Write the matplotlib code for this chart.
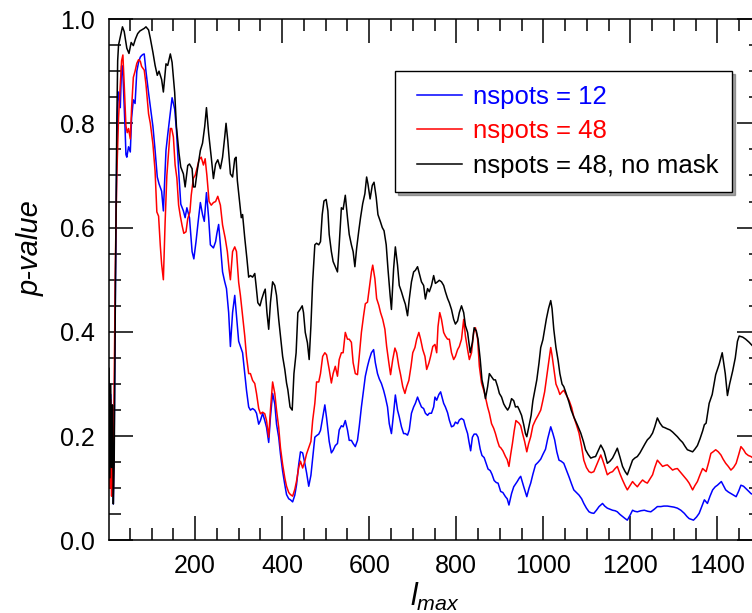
import matplotlib
matplotlib.use("Agg")
import matplotlib.pyplot as plt
from matplotlib.ticker import MultipleLocator, FormatStrFormatter

plt.rcParams['font.family'] = ['Liberation Sans', 'DejaVu Sans']
plt.rcParams['mathtext.fontset'] = 'custom'
plt.rcParams['mathtext.rm'] = 'Liberation Sans'
plt.rcParams['mathtext.it'] = 'Liberation Sans:italic'

# ---- data: p-value versus l_max ----
l_blue = [2, 4, 6, 8, 10, 12, 14, 17, 20, 22, 24, 26, 28, 31, 33, 35, 39, 41, 43, 47, 51, 54, 58, 62, 66, 70, 74, 77, 80, 83, 87, 93, 97, 103, 108, 113, 117, 123, 127, 133, 137, 143, 147, 153, 157, 163, 167, 173, 177, 181, 187, 193, 197, 202, 207, 212, 217, 221, 226, 231, 235, 242, 247, 250, 254, 258, 263, 268, 272, 277, 281, 286, 291, 295, 300, 304, 309, 314, 318, 323, 327, 332, 337, 341, 346, 350, 355, 360, 364, 369, 373, 378, 383, 387, 392, 396, 401, 406, 410, 415, 419, 424, 429, 433, 438, 442, 447, 452, 456, 461, 466, 470, 475, 479, 484, 488, 493, 498, 502, 508, 513, 517, 522, 527, 531, 536, 540, 545, 550, 554, 559, 563, 568, 573, 577, 582, 587, 591, 596, 600, 605, 610, 614, 619, 623, 628, 633, 637, 642, 646, 651, 656, 660, 665, 669, 674, 679, 683, 688, 692, 697, 702, 706, 711, 715, 720, 725, 729, 734, 738, 743, 748, 751, 755, 760, 764, 771, 775, 780, 784, 789, 794, 798, 803, 807, 812, 817, 821, 826, 829, 833, 837, 841, 846, 850, 855, 859, 864, 869, 873, 878, 882, 887, 892, 896, 902, 907, 913, 917, 921, 927, 932, 940, 945, 948, 955, 962, 967, 971, 976, 982, 988, 994, 999, 1005, 1010, 1017, 1022, 1026, 1031, 1036, 1041, 1047, 1053, 1059, 1065, 1070, 1076, 1082, 1088, 1093, 1099, 1105, 1110, 1116, 1122, 1128, 1136, 1141, 1147, 1153, 1159, 1165, 1170, 1176, 1182, 1188, 1193, 1199, 1205, 1210, 1216, 1224, 1232, 1240, 1247, 1255, 1262, 1270, 1277, 1285, 1293, 1300, 1308, 1316, 1324, 1330, 1335, 1345, 1352, 1358, 1364, 1370, 1377, 1383, 1389, 1395, 1400, 1409, 1414, 1419, 1425, 1431, 1437, 1443, 1449, 1454, 1460, 1465, 1471, 1477, 1482]
p_blue = [0.30, 0.12, 0.28, 0.10, 0.22, 0.07, 0.20, 0.50, 0.75, 0.83, 0.86, 0.85, 0.83, 0.91, 0.91, 0.875, 0.79, 0.74, 0.735, 0.755, 0.745, 0.81, 0.845, 0.838, 0.90, 0.917, 0.927, 0.93, 0.932, 0.933, 0.90, 0.858, 0.832, 0.794, 0.748, 0.697, 0.684, 0.67, 0.632, 0.748, 0.778, 0.82, 0.849, 0.827, 0.787, 0.697, 0.645, 0.632, 0.619, 0.638, 0.619, 0.554, 0.54, 0.573, 0.612, 0.648, 0.625, 0.612, 0.667, 0.619, 0.567, 0.561, 0.573, 0.589, 0.606, 0.567, 0.515, 0.496, 0.483, 0.437, 0.372, 0.437, 0.47, 0.43, 0.382, 0.372, 0.36, 0.32, 0.288, 0.256, 0.25, 0.253, 0.25, 0.244, 0.223, 0.23, 0.244, 0.23, 0.217, 0.188, 0.236, 0.282, 0.262, 0.223, 0.198, 0.166, 0.133, 0.107, 0.088, 0.08, 0.078, 0.074, 0.087, 0.107, 0.146, 0.17, 0.168, 0.148, 0.13, 0.104, 0.125, 0.158, 0.198, 0.201, 0.204, 0.211, 0.236, 0.26, 0.235, 0.19, 0.168, 0.173, 0.182, 0.186, 0.212, 0.22, 0.218, 0.23, 0.212, 0.192, 0.192, 0.186, 0.18, 0.192, 0.218, 0.256, 0.288, 0.315, 0.334, 0.347, 0.36, 0.366, 0.341, 0.32, 0.31, 0.301, 0.288, 0.275, 0.256, 0.224, 0.205, 0.244, 0.279, 0.25, 0.237, 0.218, 0.205, 0.205, 0.202, 0.212, 0.244, 0.256, 0.263, 0.275, 0.266, 0.256, 0.253, 0.244, 0.24, 0.244, 0.244, 0.256, 0.275, 0.269, 0.28, 0.285, 0.263, 0.256, 0.245, 0.231, 0.218, 0.22, 0.227, 0.224, 0.231, 0.234, 0.231, 0.218, 0.205, 0.19, 0.172, 0.198, 0.204, 0.204, 0.198, 0.175, 0.163, 0.159, 0.147, 0.137, 0.134, 0.127, 0.115, 0.111, 0.11, 0.094, 0.092, 0.084, 0.08, 0.068, 0.09, 0.103, 0.113, 0.12, 0.123, 0.103, 0.084, 0.1, 0.11, 0.127, 0.145, 0.15, 0.156, 0.165, 0.175, 0.195, 0.218, 0.205, 0.193, 0.17, 0.154, 0.152, 0.148, 0.135, 0.122, 0.108, 0.097, 0.092, 0.087, 0.08, 0.071, 0.062, 0.055, 0.053, 0.052, 0.058, 0.065, 0.071, 0.066, 0.062, 0.06, 0.058, 0.057, 0.055, 0.05, 0.046, 0.042, 0.039, 0.048, 0.058, 0.056, 0.055, 0.057, 0.058, 0.056, 0.055, 0.06, 0.065, 0.065, 0.066, 0.066, 0.065, 0.064, 0.062, 0.058, 0.052, 0.046, 0.042, 0.039, 0.045, 0.052, 0.065, 0.078, 0.071, 0.085, 0.097, 0.103, 0.106, 0.113, 0.105, 0.097, 0.093, 0.09, 0.087, 0.084, 0.095, 0.106, 0.104, 0.10, 0.095, 0.09, 0.088]

l_red = [2, 4, 6, 8, 10, 12, 14, 17, 20, 24, 28, 31, 34, 37, 41, 44, 47, 51, 54, 58, 62, 66, 70, 74, 77, 83, 87, 93, 97, 103, 108, 112, 116, 120, 123, 127, 131, 135, 139, 143, 146, 150, 154, 158, 162, 166, 170, 174, 179, 183, 188, 191, 196, 200, 205, 209, 214, 219, 223, 227, 232, 237, 242, 247, 252, 258, 263, 269, 274, 278, 281, 286, 291, 295, 300, 304, 309, 314, 318, 323, 327, 332, 337, 341, 346, 350, 355, 360, 364, 369, 373, 378, 383, 387, 392, 396, 401, 406, 410, 415, 419, 424, 429, 433, 438, 442, 447, 452, 456, 461, 466, 470, 475, 479, 484, 488, 493, 498, 502, 508, 513, 517, 522, 527, 531, 536, 540, 545, 550, 554, 559, 563, 568, 573, 577, 582, 587, 591, 596, 600, 605, 608, 613, 617, 622, 626, 631, 636, 640, 645, 649, 654, 659, 663, 668, 672, 677, 682, 686, 691, 696, 700, 705, 709, 714, 718, 723, 728, 732, 737, 741, 746, 751, 755, 758, 762, 766, 771, 775, 780, 784, 789, 794, 798, 803, 807, 812, 817, 821, 826, 830, 835, 840, 844, 849, 853, 858, 863, 867, 872, 876, 881, 886, 890, 895, 899, 902, 907, 913, 917, 921, 925, 929, 933, 937, 944, 948, 952, 957, 962, 966, 971, 976, 982, 988, 994, 998, 1003, 1007, 1012, 1017, 1020, 1024, 1029, 1034, 1038, 1043, 1047, 1052, 1059, 1065, 1070, 1076, 1082, 1088, 1093, 1099, 1105, 1110, 1116, 1120, 1124, 1132, 1136, 1140, 1147, 1153, 1159, 1165, 1170, 1176, 1182, 1188, 1193, 1199, 1205, 1210, 1216, 1222, 1228, 1234, 1239, 1245, 1251, 1256, 1262, 1268, 1274, 1280, 1285, 1291, 1297, 1302, 1308, 1316, 1324, 1330, 1335, 1343, 1348, 1354, 1360, 1366, 1374, 1380, 1385, 1390, 1396, 1402, 1408, 1413, 1419, 1425, 1431, 1437, 1443, 1449, 1454, 1460, 1465, 1471, 1477, 1482]
p_red = [0.25, 0.10, 0.27, 0.085, 0.20, 0.10, 0.30, 0.55, 0.70, 0.81, 0.875, 0.92, 0.931, 0.875, 0.795, 0.782, 0.79, 0.77, 0.829, 0.888, 0.90, 0.915, 0.922, 0.919, 0.909, 0.902, 0.875, 0.818, 0.80, 0.76, 0.708, 0.63, 0.622, 0.565, 0.53, 0.50, 0.61, 0.70, 0.746, 0.79, 0.79, 0.774, 0.72, 0.695, 0.643, 0.622, 0.604, 0.589, 0.592, 0.617, 0.63, 0.662, 0.695, 0.70, 0.716, 0.73, 0.735, 0.72, 0.732, 0.70, 0.65, 0.643, 0.648, 0.65, 0.66, 0.643, 0.605, 0.58, 0.554, 0.52, 0.50, 0.554, 0.563, 0.554, 0.495, 0.47, 0.43, 0.392, 0.353, 0.32, 0.32, 0.307, 0.301, 0.282, 0.253, 0.243, 0.246, 0.243, 0.23, 0.198, 0.25, 0.304, 0.282, 0.25, 0.217, 0.178, 0.146, 0.12, 0.104, 0.092, 0.088, 0.085, 0.098, 0.114, 0.14, 0.152, 0.139, 0.152, 0.166, 0.178, 0.19, 0.23, 0.263, 0.304, 0.304, 0.32, 0.353, 0.36, 0.356, 0.328, 0.302, 0.32, 0.334, 0.315, 0.347, 0.36, 0.36, 0.399, 0.386, 0.386, 0.38, 0.341, 0.32, 0.318, 0.353, 0.399, 0.431, 0.454, 0.457, 0.483, 0.515, 0.528, 0.502, 0.464, 0.451, 0.437, 0.424, 0.405, 0.372, 0.341, 0.318, 0.347, 0.369, 0.36, 0.334, 0.318, 0.295, 0.282, 0.295, 0.307, 0.334, 0.36, 0.37, 0.386, 0.399, 0.386, 0.366, 0.353, 0.328, 0.34, 0.353, 0.372, 0.376, 0.36, 0.41, 0.437, 0.424, 0.399, 0.392, 0.386, 0.386, 0.36, 0.347, 0.353, 0.366, 0.372, 0.386, 0.424, 0.392, 0.366, 0.347, 0.36, 0.399, 0.408, 0.386, 0.334, 0.302, 0.288, 0.275, 0.256, 0.244, 0.224, 0.215, 0.205, 0.19, 0.18, 0.178, 0.172, 0.161, 0.155, 0.142, 0.165, 0.186, 0.21, 0.23, 0.225, 0.22, 0.206, 0.19, 0.17, 0.185, 0.199, 0.22, 0.231, 0.24, 0.25, 0.265, 0.285, 0.31, 0.34, 0.37, 0.355, 0.33, 0.30, 0.29, 0.28, 0.285, 0.288, 0.28, 0.269, 0.255, 0.237, 0.222, 0.206, 0.18, 0.154, 0.14, 0.132, 0.13, 0.132, 0.14, 0.148, 0.164, 0.155, 0.145, 0.126, 0.13, 0.132, 0.138, 0.142, 0.128, 0.116, 0.105, 0.097, 0.105, 0.113, 0.108, 0.103, 0.11, 0.116, 0.112, 0.11, 0.118, 0.126, 0.14, 0.154, 0.148, 0.142, 0.144, 0.145, 0.14, 0.135, 0.137, 0.138, 0.13, 0.122, 0.116, 0.11, 0.097, 0.105, 0.113, 0.126, 0.138, 0.132, 0.15, 0.167, 0.17, 0.174, 0.17, 0.164, 0.156, 0.148, 0.142, 0.135, 0.14, 0.148, 0.165, 0.18, 0.174, 0.167, 0.163, 0.161, 0.158]

l_black = [2, 4, 6, 8, 10, 12, 14, 17, 20, 22, 24, 28, 33, 37, 43, 48, 53, 58, 63, 68, 73, 77, 83, 87, 93, 97, 103, 108, 113, 117, 123, 127, 133, 137, 143, 147, 153, 157, 163, 167, 173, 177, 183, 187, 193, 196, 200, 205, 212, 217, 222, 226, 231, 237, 242, 247, 252, 258, 263, 268, 271, 275, 281, 286, 291, 294, 297, 301, 306, 309, 314, 319, 323, 327, 332, 337, 340, 344, 349, 353, 358, 361, 365, 369, 373, 378, 383, 387, 392, 396, 401, 406, 410, 413, 418, 423, 427, 432, 436, 441, 446, 449, 453, 458, 462, 466, 470, 475, 479, 484, 488, 492, 496, 501, 505, 508, 513, 517, 522, 527, 531, 536, 540, 545, 550, 554, 559, 563, 567, 571, 576, 580, 585, 590, 594, 597, 602, 607, 611, 616, 620, 625, 630, 634, 639, 643, 648, 651, 656, 660, 665, 669, 674, 679, 683, 688, 692, 697, 702, 706, 711, 715, 720, 725, 729, 734, 738, 743, 748, 752, 757, 761, 766, 771, 775, 780, 784, 789, 794, 798, 803, 807, 812, 817, 821, 826, 829, 832, 837, 841, 846, 850, 855, 859, 864, 867, 872, 876, 881, 886, 890, 895, 899, 904, 909, 913, 918, 922, 927, 932, 936, 941, 945, 950, 955, 959, 962, 967, 972, 976, 981, 985, 990, 994, 999, 1003, 1007, 1012, 1017, 1020, 1024, 1029, 1034, 1038, 1043, 1047, 1052, 1059, 1064, 1070, 1078, 1086, 1092, 1097, 1103, 1109, 1115, 1120, 1126, 1132, 1136, 1140, 1147, 1153, 1159, 1165, 1170, 1176, 1182, 1188, 1193, 1199, 1205, 1210, 1216, 1222, 1228, 1234, 1239, 1245, 1251, 1256, 1262, 1268, 1274, 1280, 1285, 1291, 1297, 1302, 1308, 1314, 1320, 1326, 1331, 1337, 1343, 1348, 1354, 1360, 1366, 1370, 1374, 1381, 1388, 1396, 1404, 1411, 1418, 1423, 1428, 1435, 1441, 1446, 1450, 1458, 1465, 1473, 1482]
p_black = [0.33, 0.12, 0.30, 0.14, 0.26, 0.07, 0.15, 0.50, 0.80, 0.92, 0.95, 0.966, 0.985, 0.976, 0.944, 0.934, 0.955, 0.949, 0.962, 0.972, 0.977, 0.979, 0.982, 0.985, 0.979, 0.963, 0.936, 0.911, 0.892, 0.90, 0.884, 0.86, 0.914, 0.911, 0.933, 0.917, 0.859, 0.794, 0.742, 0.716, 0.703, 0.678, 0.719, 0.722, 0.713, 0.678, 0.678, 0.71, 0.748, 0.762, 0.794, 0.83, 0.781, 0.735, 0.694, 0.722, 0.73, 0.713, 0.735, 0.774, 0.80, 0.767, 0.703, 0.697, 0.732, 0.735, 0.69, 0.658, 0.619, 0.625, 0.58, 0.54, 0.505, 0.508, 0.505, 0.512, 0.489, 0.456, 0.45, 0.463, 0.476, 0.482, 0.437, 0.405, 0.456, 0.496, 0.489, 0.47, 0.424, 0.392, 0.353, 0.328, 0.302, 0.289, 0.256, 0.25, 0.32, 0.36, 0.437, 0.443, 0.45, 0.437, 0.399, 0.379, 0.347, 0.412, 0.496, 0.567, 0.57, 0.567, 0.573, 0.625, 0.651, 0.654, 0.632, 0.587, 0.554, 0.535, 0.525, 0.515, 0.567, 0.638, 0.635, 0.662, 0.619, 0.587, 0.567, 0.554, 0.525, 0.56, 0.594, 0.619, 0.646, 0.665, 0.697, 0.684, 0.655, 0.681, 0.687, 0.658, 0.625, 0.613, 0.60, 0.594, 0.567, 0.521, 0.47, 0.443, 0.521, 0.563, 0.528, 0.489, 0.477, 0.463, 0.453, 0.431, 0.463, 0.496, 0.515, 0.518, 0.525, 0.512, 0.496, 0.489, 0.463, 0.483, 0.477, 0.489, 0.508, 0.493, 0.496, 0.499, 0.496, 0.489, 0.477, 0.464, 0.456, 0.443, 0.424, 0.415, 0.421, 0.437, 0.45, 0.437, 0.412, 0.399, 0.38, 0.36, 0.38, 0.408, 0.402, 0.386, 0.347, 0.308, 0.289, 0.272, 0.295, 0.32, 0.314, 0.308, 0.308, 0.295, 0.282, 0.275, 0.262, 0.256, 0.25, 0.256, 0.272, 0.268, 0.256, 0.257, 0.25, 0.24, 0.222, 0.205, 0.199, 0.22, 0.24, 0.268, 0.29, 0.308, 0.34, 0.37, 0.385, 0.405, 0.425, 0.445, 0.46, 0.445, 0.405, 0.37, 0.345, 0.32, 0.30, 0.295, 0.283, 0.265, 0.25, 0.237, 0.222, 0.206, 0.19, 0.174, 0.165, 0.158, 0.16, 0.161, 0.172, 0.183, 0.177, 0.17, 0.148, 0.152, 0.158, 0.168, 0.177, 0.16, 0.142, 0.132, 0.126, 0.14, 0.154, 0.158, 0.161, 0.168, 0.177, 0.186, 0.193, 0.198, 0.206, 0.218, 0.235, 0.225, 0.218, 0.216, 0.214, 0.212, 0.208, 0.204, 0.199, 0.193, 0.188, 0.18, 0.174, 0.172, 0.17, 0.175, 0.182, 0.195, 0.21, 0.222, 0.225, 0.263, 0.28, 0.318, 0.338, 0.36, 0.32, 0.278, 0.30, 0.325, 0.35, 0.382, 0.392, 0.39, 0.386, 0.38, 0.372]

labels = ['nspots = 12', 'nspots = 48', 'nspots = 48, no mask']
colors = ['#0000ff', '#ff0000', '#000000']

x_range = (2, 1500)
y_range = (0.0, 1.0)

# ---- figure ----
fig = plt.figure(figsize=(7.52, 6.13), dpi=100)
ax = fig.add_axes([0.1449, 0.1183, 0.8670, 0.8507])

for lx, py, lab, col in zip([l_blue, l_red, l_black], [p_blue, p_red, p_black], labels, colors):
    ax.plot(lx, py, color=col, lw=1.1, label=lab)

ax.set_xlim(*x_range)
ax.set_ylim(*y_range)

ax.xaxis.set_major_locator(MultipleLocator(200))
ax.xaxis.set_minor_locator(MultipleLocator(50))
ax.yaxis.set_major_locator(MultipleLocator(0.2))
ax.yaxis.set_minor_locator(MultipleLocator(0.05))
ax.yaxis.set_major_formatter(FormatStrFormatter('%.1f'))

ax.tick_params(which='both', direction='in', top=True, right=True, width=1.1, colors='black')
ax.tick_params(which='major', length=17.5, labelsize=18, pad=10)
ax.tick_params(which='minor', length=8.7)
for sp in ax.spines.values():
    sp.set_linewidth(1.1)

ax.set_xlabel(r'$l_{max}$', fontsize=22, labelpad=2)
ax.set_ylabel('p-value', fontsize=21, style='italic')
ax.yaxis.set_label_coords(-0.098, 0.56)

leg = ax.legend(loc='upper left', bbox_to_anchor=(0.4393, 0.9003), borderaxespad=0,
                fontsize=18.5, frameon=True, fancybox=False, shadow=True,
                numpoints=2, handlelength=2.36, handletextpad=0.1, labelspacing=0.4,
                borderpad=0.55, labelcolor='linecolor')
leg.get_frame().set_edgecolor('black')
leg.get_frame().set_linewidth(1.0)
for h in leg.get_lines():
    h.set_linewidth(1.1)

fig.savefig('out.png', dpi=100)
